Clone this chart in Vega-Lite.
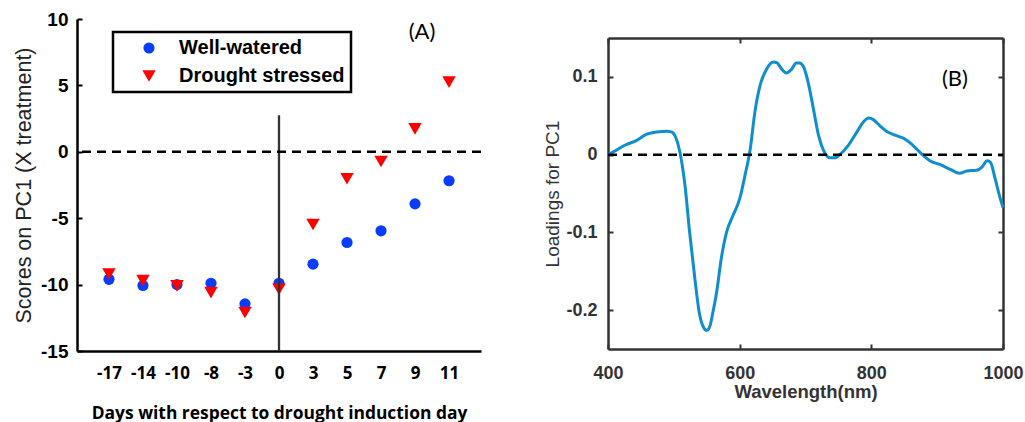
{
  "$schema": "https://vega.github.io/schema/vega-lite/v6.json",
  "background": "white",
  "padding": {"left": 13, "top": 10, "right": 5, "bottom": 3},
  "spacing": 60,
  "config": {
    "view": {"stroke": null},
    "axis": {"grid": false, "domainColor": "black", "tickColor": "black"},
    "legend": {"strokeWidth": 2.5}
  },
  "hconcat": [
    {
      "width": 404,
      "height": 332,
      "layer": [
        {
          "data": {"values": [
            {"day": -17, "group": "Well-watered", "score": -9.6},
            {"day": -14, "group": "Well-watered", "score": -10.07},
            {"day": -10, "group": "Well-watered", "score": -10.0},
            {"day": -8, "group": "Well-watered", "score": -9.9},
            {"day": -3, "group": "Well-watered", "score": -11.45},
            {"day": 0, "group": "Well-watered", "score": -9.9},
            {"day": 3, "group": "Well-watered", "score": -8.46},
            {"day": 5, "group": "Well-watered", "score": -6.83},
            {"day": 7, "group": "Well-watered", "score": -5.95},
            {"day": 9, "group": "Well-watered", "score": -3.92},
            {"day": 11, "group": "Well-watered", "score": -2.18},
            {"day": -17, "group": "Drought stressed", "score": -9.2},
            {"day": -14, "group": "Drought stressed", "score": -9.7},
            {"day": -10, "group": "Drought stressed", "score": -10.1},
            {"day": -8, "group": "Drought stressed", "score": -10.6},
            {"day": -3, "group": "Drought stressed", "score": -12.1},
            {"day": 0, "group": "Drought stressed", "score": -10.35},
            {"day": 3, "group": "Drought stressed", "score": -5.47},
            {"day": 5, "group": "Drought stressed", "score": -2.03},
            {"day": 7, "group": "Drought stressed", "score": -0.73},
            {"day": 9, "group": "Drought stressed", "score": 1.73},
            {"day": 11, "group": "Drought stressed", "score": 5.25}
          ]},
          "mark": {"type": "point", "filled": true, "opacity": 1},
          "encoding": {
            "x": {
              "field": "day", "type": "ordinal",
              "scale": {"type": "point", "domain": [-17, -14, -10, -8, -3, 0, 3, 5, 7, 9, 11], "padding": 0.94},
              "axis": {
                "title": "Days with respect to drought induction day",
                "ticks": false, "labelAngle": 0,
                "labelFont": "Open Sans", "labelFontWeight": "bold", "labelFontSize": 17, "labelColor": "black",
                "labelPadding": 14, "domainWidth": 2.5,
                "titleFont": "Open Sans", "titleFontSize": 17.4, "titleFontWeight": "bold", "titleColor": "black",
                "titlePadding": 23
              }
            },
            "y": {
              "field": "score", "type": "quantitative",
              "scale": {"domain": [-15, 10], "nice": false, "zero": false},
              "axis": {
                "values": [-15, -10, -5, 0, 5, 10],
                "labelExpr": "replace(datum.label, '\u2212', '-')",
                "title": "Scores on PC1 (X treatment)",
                "tickSize": -5, "tickWidth": 2, "labelPadding": 14, "domainWidth": 2.5,
                "labelFont": "Liberation Sans", "labelFontWeight": "bold", "labelFontSize": 19, "labelColor": "black",
                "titleFont": "Liberation Sans", "titleFontWeight": "normal", "titleFontSize": 21.5, "titleColor": "#222222",
                "titlePadding": 5
              }
            },
            "size": {
              "field": "group", "type": "nominal",
              "scale": {"domain": ["Well-watered", "Drought stressed"], "range": [125, 180]},
              "legend": null
            },
            "color": {
              "field": "group", "type": "nominal",
              "scale": {"domain": ["Well-watered", "Drought stressed"], "range": ["#0a3cff", "#ff0000"]},
              "legend": {
                "title": null, "orient": "none", "legendX": 36, "legendY": 13,
                "strokeColor": "black", "padding": 6, "symbolOffset": 20,
                "labelFont": "Liberation Sans", "labelFontWeight": "bold", "labelFontSize": 20, "labelColor": "black",
                "labelOffset": 20, "labelLimit": 400, "rowPadding": 8, "symbolSize": 140,
                "encode": {"legend": {"update": {"strokeWidth": {"value": 2.5}}}}
              }
            },
            "shape": {
              "field": "group", "type": "nominal",
              "scale": {"domain": ["Well-watered", "Drought stressed"], "range": ["circle", "triangle-down"]},
              "legend": {
                "title": null, "orient": "none", "legendX": 36, "legendY": 13,
                "strokeColor": "black", "padding": 6, "symbolOffset": 20,
                "labelFont": "Liberation Sans", "labelFontWeight": "bold", "labelFontSize": 20, "labelColor": "black",
                "labelOffset": 20, "labelLimit": 400, "rowPadding": 8, "symbolSize": 140,
                "encode": {"legend": {"update": {"strokeWidth": {"value": 2.5}}}}
              }
            }
          }
        },
        {
          "data": {"values": [{}]},
          "mark": {"type": "rule", "color": "#333333", "strokeWidth": 2.3},
          "encoding": {
            "x": {"datum": 0, "type": "ordinal"},
            "y": {"datum": -15, "type": "quantitative"},
            "y2": {"datum": 2.75}
          }
        },
        {
          "data": {"values": [{}]},
          "mark": {"type": "rule", "color": "black", "strokeWidth": 2.5, "strokeDash": [9, 6]},
          "encoding": {
            "y": {"datum": 0, "type": "quantitative"}
          }
        },
        {
          "data": {"values": [{}]},
          "mark": {"type": "text", "text": "(A)", "font": "Lato", "fontSize": 22, "color": "black", "dx": 7},
          "encoding": {
            "x": {"datum": 9, "type": "ordinal"},
            "y": {"datum": 9, "type": "quantitative"}
          }
        }
      ]
    },
    {
      "width": 395,
      "height": 330,
      "layer": [
        {
          "data": {"values": [
            {"wl": 400, "loading": 0.0},
            {"wl": 405, "loading": 0.002},
            {"wl": 415, "loading": 0.007},
            {"wl": 428, "loading": 0.013},
            {"wl": 443, "loading": 0.018},
            {"wl": 458, "loading": 0.026},
            {"wl": 474, "loading": 0.029},
            {"wl": 490, "loading": 0.03},
            {"wl": 497, "loading": 0.029},
            {"wl": 503, "loading": 0.022},
            {"wl": 509, "loading": 0.004},
            {"wl": 517, "loading": -0.04},
            {"wl": 524, "loading": -0.1},
            {"wl": 532, "loading": -0.16},
            {"wl": 539, "loading": -0.205},
            {"wl": 545, "loading": -0.222},
            {"wl": 550, "loading": -0.226},
            {"wl": 555, "loading": -0.22},
            {"wl": 560, "loading": -0.2},
            {"wl": 565, "loading": -0.177},
            {"wl": 572, "loading": -0.134},
            {"wl": 580, "loading": -0.1},
            {"wl": 590, "loading": -0.078},
            {"wl": 600, "loading": -0.057},
            {"wl": 608, "loading": -0.027},
            {"wl": 616, "loading": 0.007},
            {"wl": 623, "loading": 0.054},
            {"wl": 631, "loading": 0.089},
            {"wl": 641, "loading": 0.11},
            {"wl": 651, "loading": 0.119},
            {"wl": 657, "loading": 0.118},
            {"wl": 663, "loading": 0.111},
            {"wl": 671, "loading": 0.105},
            {"wl": 679, "loading": 0.11},
            {"wl": 686, "loading": 0.118},
            {"wl": 691, "loading": 0.118},
            {"wl": 697, "loading": 0.113},
            {"wl": 704, "loading": 0.093},
            {"wl": 712, "loading": 0.059},
            {"wl": 720, "loading": 0.024},
            {"wl": 727, "loading": 0.006},
            {"wl": 737, "loading": -0.004},
            {"wl": 745, "loading": -0.004},
            {"wl": 752, "loading": 0.0},
            {"wl": 765, "loading": 0.012},
            {"wl": 778, "loading": 0.029},
            {"wl": 788, "loading": 0.042},
            {"wl": 796, "loading": 0.047},
            {"wl": 803, "loading": 0.045},
            {"wl": 813, "loading": 0.037},
            {"wl": 823, "loading": 0.03},
            {"wl": 836, "loading": 0.025},
            {"wl": 849, "loading": 0.021},
            {"wl": 859, "loading": 0.015},
            {"wl": 869, "loading": 0.007},
            {"wl": 879, "loading": -0.001},
            {"wl": 889, "loading": -0.008},
            {"wl": 905, "loading": -0.013},
            {"wl": 920, "loading": -0.019},
            {"wl": 934, "loading": -0.024},
            {"wl": 945, "loading": -0.021},
            {"wl": 960, "loading": -0.02},
            {"wl": 968, "loading": -0.016},
            {"wl": 976, "loading": -0.008},
            {"wl": 981, "loading": -0.01},
            {"wl": 988, "loading": -0.031},
            {"wl": 996, "loading": -0.057},
            {"wl": 1000, "loading": -0.068}
          ]},
          "mark": {"type": "line", "color": "#0e8ed0", "strokeWidth": 3, "interpolate": "monotone"},
          "encoding": {
            "x": {
              "field": "wl", "type": "quantitative",
              "scale": {"domain": [400, 1000], "nice": false, "zero": false},
              "axis": {
                "orient": "bottom", "values": [400, 600, 800, 1000], "format": "d", "title": "Wavelength(nm)",
                "tickSize": -5, "tickWidth": 2, "tickColor": "#333333", "labelPadding": 20, "labelFlush": false,
                "domainColor": "#333333", "domainWidth": 2.5,
                "labelFont": "Liberation Sans", "labelFontWeight": "bold", "labelFontSize": 18, "labelColor": "#333333",
                "titleFont": "Liberation Sans", "titleFontWeight": "bold", "titleFontSize": 18.5, "titleColor": "#333333",
                "titlePadding": 0
              }
            },
            "y": {
              "field": "loading", "type": "quantitative",
              "scale": {"domain": [-0.25, 0.15], "nice": false, "zero": false, "range": [330, 19]},
              "axis": {
                "orient": "left", "values": [-0.2, -0.1, 0, 0.1], "title": "Loadings for PC1",
                "labelExpr": "datum.value == 0 ? '0' : replace(format(datum.value, '.1f'), '\u2212', '-')",
                "tickSize": -5, "tickWidth": 2, "tickColor": "#333333", "labelPadding": 16,
                "domainColor": "#333333", "domainWidth": 2.5,
                "labelFont": "Liberation Sans", "labelFontWeight": "bold", "labelFontSize": 18, "labelColor": "#333333",
                "titleFont": "Liberation Sans", "titleFontWeight": "normal", "titleFontSize": 19, "titleColor": "#333333",
                "titlePadding": 3
              }
            }
          }
        },
        {
          "data": {"values": [{"start": 400, "end": 1000, "level": 0}]},
          "mark": {"type": "rule", "color": "black", "strokeWidth": 2.5, "strokeDash": [9, 6]},
          "encoding": {
            "x": {
              "field": "start", "type": "quantitative",
              "axis": {"orient": "top", "offset": -19, "values": [400, 600, 800, 1000], "labels": false, "title": null,
                "tickSize": -5, "tickWidth": 2, "tickColor": "#333333", "domainColor": "#333333", "domainWidth": 2.5}
            },
            "x2": {"field": "end"},
            "y": {
              "field": "level", "type": "quantitative",
              "axis": {"orient": "right", "values": [-0.2, -0.1, 0, 0.1], "labels": false, "title": null,
                "tickSize": -5, "tickWidth": 2, "tickColor": "#333333", "domainColor": "#333333", "domainWidth": 2.5}
            }
          }
        },
        {
          "data": {"values": [{}]},
          "mark": {"type": "text", "text": "(B)", "font": "Lato", "fontSize": 22, "color": "black"},
          "encoding": {
            "x": {"datum": 927, "type": "quantitative", "axis": null},
            "y": {"datum": 0.097, "type": "quantitative", "axis": null}
          }
        }
      ],
      "resolve": {"axis": {"x": "independent", "y": "independent"}}
    }
  ]
}
